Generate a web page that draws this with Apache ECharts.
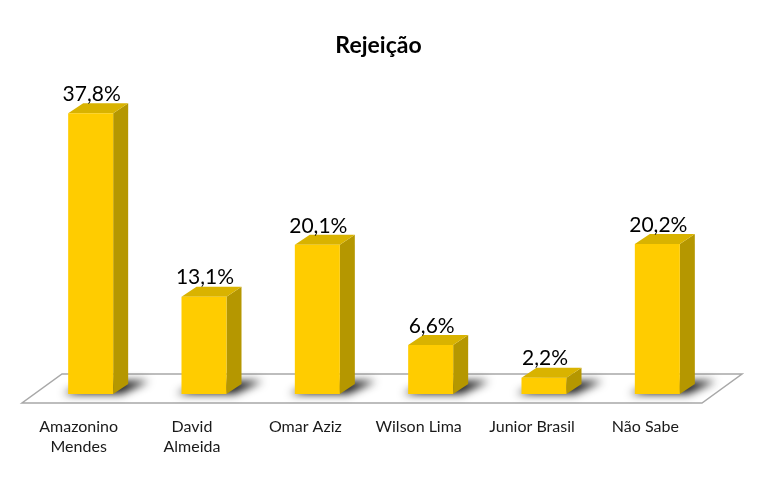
<!DOCTYPE html>
<html><head><meta charset="utf-8">
<script src="https://cdn.jsdelivr.net/npm/echarts@6/dist/echarts.min.js"></script>
<style>html,body{margin:0;padding:0;background:#fff}#c{width:757px;height:477px}</style>
</head><body><div id="c"></div>
<script>
var categories = ['Amazonino\nMendes', 'David\nAlmeida', 'Omar Aziz', 'Wilson Lima', 'Junior Brasil', 'Não Sabe'];
var values = [37.8, 13.1, 20.1, 6.6, 2.2, 20.2];
var titleText = 'Rejeição';

var chart = echarts.init(document.getElementById('c'));
var BW = 45, DX = 15, DY = 10, OFF = 3000;
var FRONT = '#FFCC00', TOP = '#D9B300', SIDE = '#B59700';
function fmt(v){ return v.toFixed(1).replace('.', ',') + '%'; }

chart.setOption({
  animation: false,
  title: { text: titleText, left: 'center', top: 29,
    textStyle: { fontFamily: 'Lato', fontSize: 23, fontWeight: 'bold', color: '#000' } },
  grid: { left: 34, width: 680, top: 97, bottom: 83 },
  xAxis: { type: 'category', data: categories,
    axisLine: { show: false }, axisTick: { show: false },
    axisLabel: { margin: 23, padding: [0, 24, 0, 0], fontFamily: 'Lato', fontSize: 16, color: '#1a1a1a', lineHeight: 20, interval: 0 } },
  yAxis: { type: 'value', min: 0, max: 40, show: false, splitLine: { show: false } },
  series: [
    { type: 'custom', data: [0], z: 1,
      renderItem: function(params, api){
        var cs = params.coordSys;
        var y0 = api.coord([0, 0])[1];
        var l = cs.x, r = cs.x + cs.width;
        return { type: 'polygon',
          shape: { points: [[l - 12, y0 + 9], [r - 12, y0 + 9], [r + 28, y0 - 20], [l + 28, y0 - 20]] },
          style: { fill: '#fff', stroke: '#A8A8A8', lineWidth: 1.5 } };
      } },
    { type: 'custom', data: values, z: 2,
      renderItem: function(params, api){
        var v = api.value(1);
        var c = api.coord([api.value(0), v]);
        var b = api.coord([api.value(0), 0]);
        var xl = c[0] - BW / 2, xr = c[0] + BW / 2, yt = c[1], yb = b[1];
        return { type: 'group', children: [
          { type: 'polygon',
            shape: { points: [[xl - 5 - OFF, yb], [xr + 8 - OFF, yb], [xr + 36 - OFF, yb - 13], [xl + 22 - OFF, yb - 13]] },
            style: { fill: '#000', shadowColor: 'rgba(0,0,0,0.9)', shadowBlur: 8, shadowOffsetX: OFF, shadowOffsetY: 0 } },
          { type: 'polygon', shape: { points: [[xr, yt], [xr + DX, yt - DY], [xr + DX, yb - DY], [xr, yb]] },
            style: { fill: SIDE } },
          { type: 'polygon', shape: { points: [[xl, yt], [xl + DX, yt - DY], [xr + DX, yt - DY], [xr, yt]] },
            style: { fill: TOP } },
          { type: 'rect', shape: { x: xl, y: yt, width: BW, height: yb - yt },
            style: { fill: FRONT } },
          { type: 'text', x: c[0] + 1, y: yt - 19,
            style: { text: fmt(v), fontFamily: 'Lato', fontSize: 21, fill: '#000', align: 'center', verticalAlign: 'middle' } }
        ] };
      },
      encode: { x: 0, y: 1 } }
  ]
});
</script></body></html>
